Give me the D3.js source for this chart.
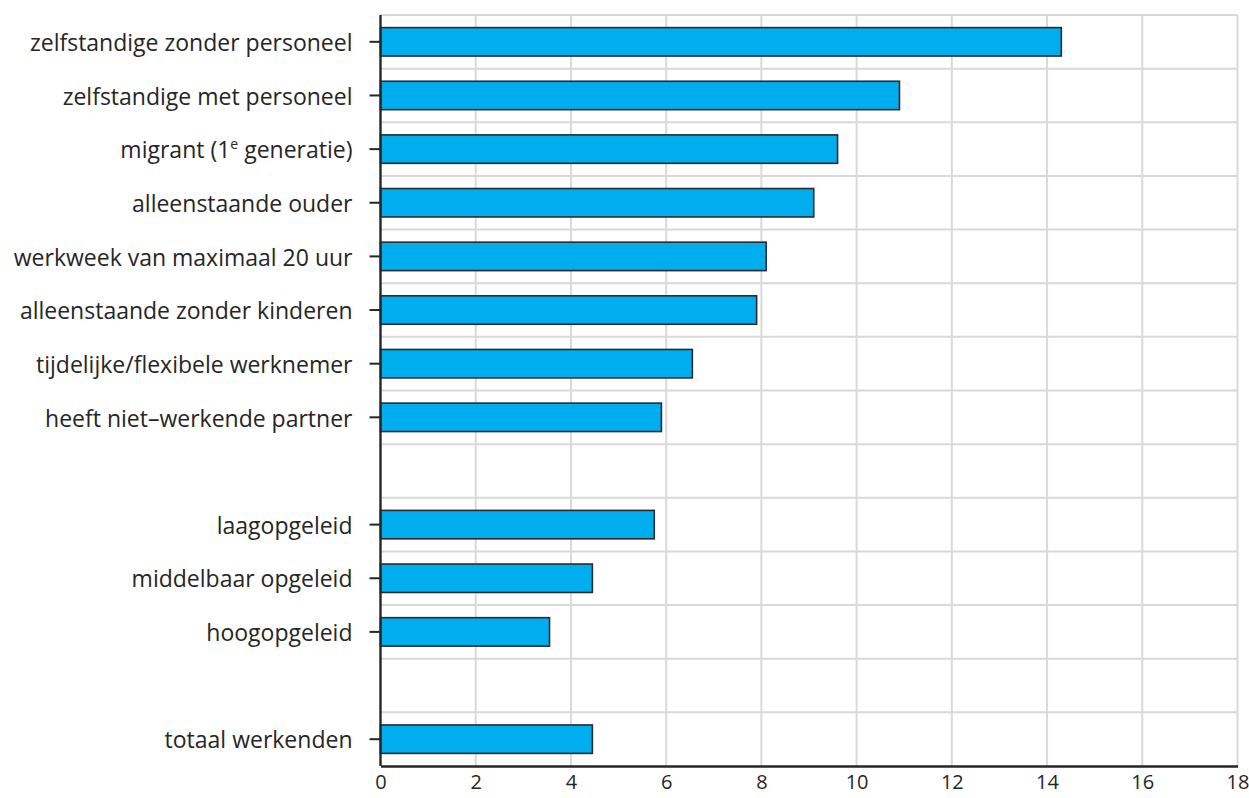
<!DOCTYPE html>
<html><head><meta charset="utf-8">
<script src="https://cdn.jsdelivr.net/npm/d3@7"></script>
<style>body{margin:0;background:#fff}svg text{font-family:"Open Sans",sans-serif;fill:#262626}</style>
</head><body><svg id="c" width="1249" height="798"></svg>
<script>
const categories = [
  "zelfstandige zonder personeel",
  "zelfstandige met personeel",
  "migrant (1e generatie)",
  "alleenstaande ouder",
  "werkweek van maximaal 20 uur",
  "alleenstaande zonder kinderen",
  "tijdelijke/flexibele werknemer",
  "heeft niet\u2013werkende partner",
  "",
  "laagopgeleid",
  "middelbaar opgeleid",
  "hoogopgeleid",
  " ",
  "totaal werkenden"
];
const values = [14.3, 10.9, 9.6, 9.1, 8.1, 7.9, 6.55, 5.9, null, 5.75, 4.45, 3.55, null, 4.45];
const xTicks = [0, 2, 4, 6, 8, 10, 12, 14, 16, 18];

const W = 1249, H = 798;
const m = {top: 15, right: 11.5, bottom: 32, left: 380.5};
const svg = d3.select("#c");
const x = d3.scaleLinear().domain([0, 18]).range([m.left, W - m.right]);
const y = d3.scaleBand().domain(d3.range(categories.length)).range([m.top, H - m.bottom])
  .paddingInner(0.47).paddingOuter(0.235);

const g = svg.append("g");
// vertical gridlines
g.selectAll(".vg").data(xTicks.slice(1)).join("line")
  .attr("x1", d => x(d)).attr("x2", d => x(d))
  .attr("y1", m.top).attr("y2", H - m.bottom)
  .attr("stroke", "#d9d9d9").attr("stroke-width", 2);
// horizontal gridlines at band boundaries
const bounds = d3.range(categories.length).map(i => y(i) - y.step() * y.paddingInner() / 2);
g.selectAll(".hg").data(bounds).join("line")
  .attr("x1", m.left).attr("x2", W - m.right)
  .attr("y1", d => d).attr("y2", d => d)
  .attr("stroke", "#d9d9d9").attr("stroke-width", 2);

// bars
const data = values.map((v, i) => ({i, v})).filter(d => d.v != null);
g.selectAll(".bar").data(data).join("rect")
  .attr("x", x(0)).attr("y", d => y(d.i))
  .attr("width", d => x(d.v) - x(0)).attr("height", y.bandwidth())
  .attr("fill", "#00adee").attr("stroke", "#2b2b2b").attr("stroke-width", 1.6);

// x axis
const xa = svg.append("g").attr("transform", `translate(0,${H - m.bottom})`)
  .call(d3.axisBottom(x).tickValues(xTicks).tickSize(0).tickPadding(9));
xa.select(".domain").attr("stroke", "#262626").attr("stroke-width", 2.4);
xa.selectAll("text").style("font-size", "20px").attr("fill", "#262626");

// y axis
const labelled = d3.range(categories.length).filter(i => values[i] != null);
const ya = svg.append("g").attr("transform", `translate(${m.left},0)`)
  .call(d3.axisLeft(y).tickValues(labelled).tickSize(11).tickPadding(17).tickFormat(""));
ya.select(".domain").attr("d", `M0,${m.top}V${H - m.bottom}`).attr("stroke", "#262626").attr("stroke-width", 2.4);
ya.selectAll(".tick line").attr("stroke", "#262626").attr("stroke-width", 2);
ya.selectAll(".tick").each(function(i) {
  const t = d3.select(this).select("text").style("font-size", "23px").attr("fill", "#262626").attr("dy", "0.4em");
  const s = categories[i];
  if (s.includes("1e")) {
    const parts = s.split("1e");
    t.append("tspan").text(parts[0] + "1");
    t.append("tspan").text("e").attr("dy", "-9px").style("font-size", "14px");
    t.append("tspan").text(parts[1]).attr("dy", "9px");
  } else t.text(s);
});
</script></body></html>
